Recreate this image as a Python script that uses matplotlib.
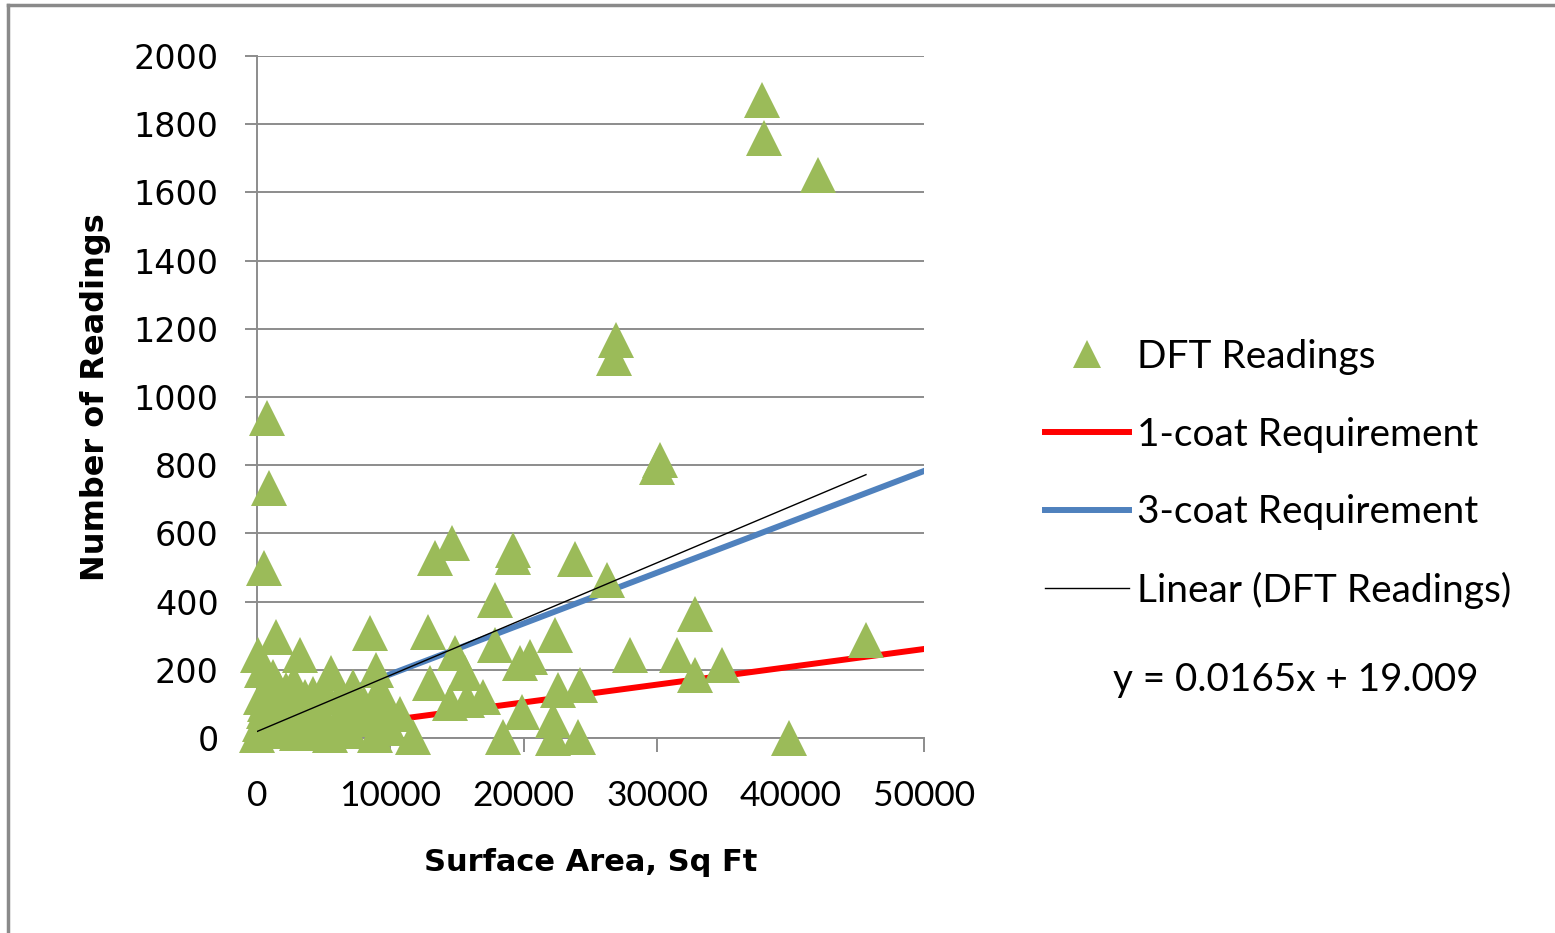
import numpy as np
import matplotlib
matplotlib.use("Agg")
import matplotlib.pyplot as plt
from matplotlib.lines import Line2D

# ---- data ----
area_sqft = [
    37850, 38000, 42050, 26900, 26760, 750, 900, 525, 30200, 30000,
    13343, 14617, 19190, 19190, 23837, 26236, 17840, 32832, 12818, 22338,
    17840, 14842, 20464, 19714, 27960, 31483, 32832, 34856, 12968, 15592,
    22563, 24212, 14467, 15742, 16941, 19864, 22188, 11694, 18440, 22188,
    24062, 45650, 39900, 10700,
    1424, 75, 3223, 8470, 5547, 8920, 3598, 1574, 8845,
    0, 200, 500, 300, 800, 1000, 1500, 2000, 2500, 3000, 3500, 4000, 4500,
    5000, 5500, 6000, 6500, 7000, 7500, 8000, 9000, 9500, 10000, 400, 1200,
    2200, 2800, 6800, 5200, 600, 9600, 7200, 4200, 6200, 8200,
]
num_readings = [
    1871, 1760, 1651, 1167, 1114, 938, 733, 498, 815, 795,
    528, 572, 551, 531, 525, 463, 405, 363, 311, 302,
    273, 249, 238, 220, 243, 243, 185, 214, 161, 191,
    141, 155, 103, 111, 120, 76, 53, 3, 3, 0,
    3, 287, 0, 70,
    296, 243, 243, 308, 190, 199, 120, 150, 9,
    10, 40, 80, 120, 60, 20, 100, 30, 70, 15, 50, 90, 20,
    60, 10, 40, 80, 20, 55, 100, 130, 60, 30, 200, 180,
    140, 160, 110, 130, 100, 110, 150, 130, 120, 60,
]
req_x = [0, 50000]
one_coat_req = [0, 261]
three_coat_req = [38, 783]
trend_slope = 0.0165
trend_intercept = 19.009

x_ticks = [0, 10000, 20000, 30000, 40000, 50000]
y_ticks = [0, 200, 400, 600, 800, 1000, 1200, 1400, 1600, 1800, 2000]

series_labels = ["DFT Readings", "1-coat Requirement", "3-coat Requirement",
                 "Linear (DFT Readings)"]
equation_text = "y = 0.0165x + 19.009"

GREEN = "#9BBB59"
RED = "#FF0000"
BLUE = "#4F81BD"
GRID = "#8C8C8C"

W, H = 1555, 933
fig = plt.figure(figsize=(W / 100, H / 100), dpi=100)
ax = fig.add_axes([257 / W, 1 - 738 / H, 667 / W, 682 / H])

ax.plot(req_x, one_coat_req, color=RED, lw=4.3, zorder=2, label=series_labels[1])
ax.plot(req_x, three_coat_req, color=BLUE, lw=4.3, zorder=2, label=series_labels[2])
ax.plot(area_sqft, num_readings, linestyle="none", marker="^", markersize=26,
        markeredgewidth=0, color=GREEN, zorder=3, clip_on=False,
        label=series_labels[0])
tx = np.array([0, max(area_sqft)])
ax.plot(tx, trend_slope * tx + trend_intercept, color="black", lw=1.0,
        zorder=4, label=series_labels[3])

ax.set_xlim(0, 50000)
ax.set_ylim(0, 2000)
ax.set_xticks(x_ticks)
ax.set_yticks(y_ticks)
ax.set_xticklabels([str(v) for v in x_ticks], family="Lato", fontsize=25.5)
ax.set_yticklabels([str(v) for v in y_ticks], family="DejaVu Sans", fontsize=24)
ax.tick_params(axis="y", length=8.6, width=1.4, color=GRID, pad=19)
ax.tick_params(axis="x", length=10, width=1.4, color=GRID, pad=20)
ax.grid(axis="y", color=GRID, lw=1.4, zorder=0)
ax.set_axisbelow(True)
for s in ["top", "right"]:
    ax.spines[s].set_visible(False)
for s in ["left", "bottom"]:
    ax.spines[s].set_color(GRID)
    ax.spines[s].set_linewidth(1.4)

ax.set_xlabel("Surface Area, Sq Ft", family="DejaVu Sans", weight="bold",
              fontsize=22, labelpad=26)
ax.set_ylabel("Number of Readings", family="DejaVu Sans", weight="bold",
              fontsize=23, labelpad=16)

handles, labels = ax.get_legend_handles_labels()
order = [labels.index(l) for l in series_labels]
leg = ax.legend([handles[i] for i in order], [labels[i] for i in order],
                loc="upper left", bbox_to_anchor=(1045 / W, 1 - 339 / H),
                bbox_transform=fig.transFigure, frameon=False,
                prop={"family": "Lato", "size": 28}, borderpad=0,
                borderaxespad=0, handlelength=2.17, handletextpad=0.2,
                labelspacing=1.07, markerscale=0.78)

fig.text(1113 / W, 1 - 680 / H, equation_text, family="Lato", fontsize=27.8,
         ha="left", va="center")

bx = 8 / W
by = 1 - 5 / H
fig.add_artist(Line2D([bx, bx], [0, by], transform=fig.transFigure,
                      color="#8A8A8A", lw=2.5))
fig.add_artist(Line2D([bx, 1], [by, by], transform=fig.transFigure,
                      color="#8A8A8A", lw=2.5))

fig.savefig("out.png", dpi=100)
